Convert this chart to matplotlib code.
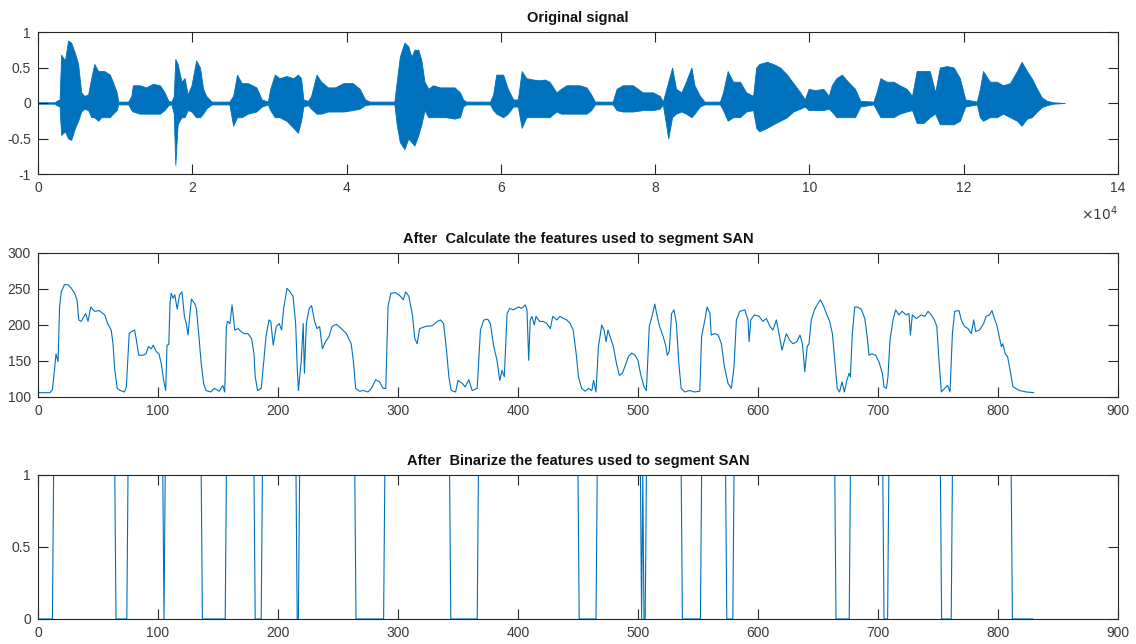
import numpy as np
import matplotlib
matplotlib.use("Agg")
import matplotlib.pyplot as plt

# ---------------- data ----------------
# Original signal: envelope (x in units of 1e4 samples)
sig_x = [0.00, 0.22, 0.24, 0.28, 0.30, 0.35, 0.39, 0.43, 0.48, 0.52, 0.56, 0.60, 0.65, 0.69, 0.73, 0.78,
         0.82, 0.86, 0.93, 0.97, 1.02, 1.04, 1.17, 1.21, 1.23, 1.32, 1.40, 1.49, 1.58, 1.64, 1.69, 1.73,
         1.76, 1.78, 1.81, 1.86, 1.90, 1.94, 1.99, 2.05, 2.10, 2.14, 2.18, 2.25, 2.48, 2.53, 2.58, 2.64,
         2.72, 2.83, 2.90, 2.98, 3.01, 3.07, 3.13, 3.22, 3.31, 3.37, 3.41, 3.44, 3.50, 3.54, 3.61, 3.67,
         3.76, 3.85, 3.96, 4.08, 4.17, 4.24, 4.30, 4.62, 4.65, 4.69, 4.75, 4.80, 4.84, 4.88, 4.93, 4.97,
         5.01, 5.06, 5.12, 5.21, 5.29, 5.40, 5.47, 5.51, 5.55, 5.86, 5.90, 5.94, 6.03, 6.09, 6.16, 6.22,
         6.27, 6.33, 6.42, 6.50, 6.57, 6.63, 6.72, 6.78, 6.85, 6.94, 7.02, 7.11, 7.17, 7.22, 7.45, 7.50,
         7.58, 7.71, 7.84, 7.97, 8.06, 8.10, 8.17, 8.22, 8.27, 8.34, 8.40, 8.47, 8.51, 8.58, 8.64, 8.84,
         8.88, 8.94, 9.01, 9.10, 9.18, 9.27, 9.31, 9.35, 9.45, 9.53, 9.62, 9.71, 9.79, 9.88, 9.94, 9.99,
         10.07, 10.18, 10.25, 10.29, 10.35, 10.42, 10.50, 10.59, 10.66, 10.83, 10.87, 10.92, 11.00, 11.09,
         11.17, 11.26, 11.33, 11.39, 11.48, 11.56, 11.63, 11.69, 11.78, 11.87, 11.95, 12.02, 12.17, 12.21,
         12.25, 12.34, 12.43, 12.51, 12.60, 12.69, 12.75, 12.82, 12.88, 12.95, 13.01, 13.08, 13.16, 13.31]
sig_up = [0.01, 0.01, 0.03, 0.05, 0.68, 0.60, 0.88, 0.85, 0.70, 0.55, 0.15, 0.10, 0.12, 0.35, 0.55, 0.45,
          0.45, 0.45, 0.40, 0.30, 0.15, 0.02, 0.02, 0.10, 0.25, 0.25, 0.22, 0.27, 0.25, 0.15, 0.03, 0.02,
          0.10, 0.62, 0.55, 0.30, 0.35, 0.12, 0.25, 0.60, 0.50, 0.20, 0.10, 0.02, 0.02, 0.10, 0.40, 0.28,
          0.28, 0.22, 0.05, 0.02, 0.20, 0.40, 0.35, 0.38, 0.35, 0.40, 0.35, 0.05, 0.03, 0.10, 0.40, 0.30,
          0.22, 0.22, 0.28, 0.28, 0.20, 0.05, 0.02, 0.02, 0.30, 0.65, 0.85, 0.80, 0.65, 0.75, 0.75, 0.60,
          0.30, 0.20, 0.25, 0.22, 0.22, 0.22, 0.15, 0.05, 0.02, 0.02, 0.12, 0.40, 0.40, 0.20, 0.05, 0.05,
          0.45, 0.35, 0.33, 0.32, 0.33, 0.30, 0.15, 0.20, 0.25, 0.25, 0.25, 0.22, 0.12, 0.02, 0.02, 0.20,
          0.25, 0.25, 0.15, 0.15, 0.10, 0.02, 0.30, 0.50, 0.20, 0.15, 0.30, 0.50, 0.25, 0.10, 0.02, 0.02,
          0.15, 0.45, 0.30, 0.30, 0.15, 0.10, 0.50, 0.55, 0.58, 0.55, 0.50, 0.40, 0.28, 0.15, 0.05, 0.20,
          0.18, 0.20, 0.10, 0.25, 0.35, 0.40, 0.30, 0.20, 0.03, 0.02, 0.15, 0.35, 0.30, 0.30,
          0.25, 0.20, 0.10, 0.45, 0.45, 0.45, 0.15, 0.50, 0.52, 0.50, 0.35, 0.05, 0.02, 0.20,
          0.45, 0.30, 0.30, 0.25, 0.28, 0.45, 0.58, 0.45, 0.35, 0.20, 0.08, 0.03, 0.01, 0.00]
sig_lo = [-0.01, -0.01, -0.03, -0.05, -0.45, -0.40, -0.50, -0.52, -0.35, -0.25, -0.12, -0.08, -0.10, -0.20, -0.20, -0.25,
          -0.20, -0.20, -0.20, -0.15, -0.10, -0.02, -0.02, -0.10, -0.12, -0.15, -0.15, -0.15, -0.15, -0.10, -0.03, -0.02,
          -0.15, -0.87, -0.30, -0.20, -0.20, -0.10, -0.12, -0.20, -0.20, -0.15, -0.08, -0.02, -0.02, -0.32, -0.20, -0.20,
          -0.15, -0.12, -0.05, -0.02, -0.10, -0.20, -0.20, -0.25, -0.35, -0.42, -0.25, -0.05, -0.03, -0.08, -0.15, -0.15,
          -0.12, -0.12, -0.12, -0.10, -0.08, -0.03, -0.02, -0.02, -0.30, -0.55, -0.65, -0.50, -0.55, -0.60, -0.45, -0.30,
          -0.10, -0.20, -0.20, -0.20, -0.20, -0.22, -0.20, -0.05, -0.02, -0.02, -0.10, -0.15, -0.20, -0.15, -0.05, -0.05,
          -0.35, -0.20, -0.20, -0.20, -0.20, -0.20, -0.12, -0.15, -0.15, -0.15, -0.15, -0.15, -0.10, -0.02, -0.02, -0.10,
          -0.12, -0.12, -0.10, -0.10, -0.08, -0.02, -0.50, -0.20, -0.15, -0.12, -0.15, -0.20, -0.15, -0.05, -0.02, -0.02,
          -0.10, -0.25, -0.20, -0.20, -0.12, -0.10, -0.35, -0.40, -0.35, -0.30, -0.25, -0.20, -0.12, -0.08, -0.05, -0.10,
          -0.10, -0.10, -0.08, -0.12, -0.20, -0.20, -0.20, -0.20, -0.05, -0.02, -0.10, -0.20, -0.20, -0.20,
          -0.15, -0.12, -0.10, -0.28, -0.28, -0.20, -0.15, -0.30, -0.30, -0.30, -0.25, -0.05, -0.02, -0.20,
          -0.25, -0.20, -0.20, -0.15, -0.20, -0.25, -0.32, -0.22, -0.20, -0.12, -0.06, -0.03, -0.01, 0.00]

# Feature curve (frame index, value)
feat_x = [0, 10, 12, 14, 15, 16.7, 18, 19.4, 22, 25, 27.8, 30.5, 32.5, 34, 36, 39.7, 41.7, 44, 47, 51, 55.6, 58,
          61, 62.5, 64, 66, 68.6, 72, 73.6, 76, 78, 80.5, 82, 84, 87.5, 90, 92, 94.4, 96, 98.6, 100.8, 102.8,
          104.7, 106.4, 107.5, 109, 110, 111, 112.5, 114, 116, 118, 120, 122, 123.6, 125, 126.4, 127.8, 130.5,
          132, 134, 136, 138, 140, 144, 147, 151, 154, 155.6, 157, 158, 160, 161.7, 164, 167, 169, 172, 175,
          178, 180, 181, 183, 186, 188, 190, 192.5, 194, 196, 198.6, 201, 203, 204.7, 207.5, 209.7, 212.5,
          214.7, 216, 217, 219.4, 221, 222, 223.6, 226, 228, 230.5, 232.5, 234.7, 237, 239.7, 242.5, 245,
          248.6, 252.8, 257, 261, 263, 264.7, 268, 271, 275, 277.8, 281.4, 284.7, 287.5, 289.8, 291.7, 294,
          298, 302, 304.4, 306.4, 309, 312, 314, 316, 318, 323, 328.5, 332.7, 335.5, 338, 340.4, 342.4, 344.3,
          348, 350, 353.5, 356, 359, 361.8, 366, 368.7, 371.5, 374.8, 377, 379.8, 382.5, 384.8, 386.7, 388.6,
          390.9, 393, 396, 400.6, 403, 406, 407.5, 408.9, 410.2, 411.6, 413.6, 415, 418, 421, 424, 426.9, 429,
          432.4, 435, 438, 440.7, 443.5, 446, 448.5, 450.4, 453, 456, 458.7, 461.5, 463, 465, 467, 469.8,
          471.7, 473.4, 475, 476.7, 479.5, 482, 484.5, 487, 489, 492, 494.7, 497.5, 500, 502, 505, 507, 509.4,
          512, 514, 516, 518, 521, 523, 524.4, 526, 528, 530, 532, 534, 536, 539, 543, 547, 551.5, 553,
          555.7, 557.6, 560, 561, 564, 566.8, 569.5, 572, 575, 577.8, 580, 582, 584.8, 589, 591.7, 592.6,
          594, 597, 601, 604, 607, 610, 612.5, 615.3, 617.5, 620, 621.4, 623.6, 626.4, 629, 632.5, 635, 637,
          639, 641, 642.5, 644.4, 647, 650, 652, 654.7, 657, 659.7, 662, 664, 666, 668, 670, 672, 674, 676,
          677, 678.6, 680.6, 683, 686, 689, 691, 692.5, 695, 698, 700.8, 703.6, 705, 707, 708.3, 710, 712.5,
          714.7, 717.5, 720, 723.6, 725.8, 727, 728.6, 732, 736, 739, 741.7, 744.4, 747, 749, 750.8, 752.8,
          755.5, 758, 760, 762, 763.9, 767.5, 769.4, 772, 775, 777.8, 779.7, 781.4, 784.7, 788, 790, 793,
          795, 797, 799, 801, 802.8, 804, 806, 808, 810, 812.5, 818, 823.6, 829.7]
feat_y = [106, 106, 110, 142, 160, 149, 226, 246, 256, 256, 251, 244, 235, 207, 205, 216, 205, 225, 219, 220, 214, 202,
          193, 174, 137, 112, 109, 107, 114, 188, 191, 193, 179, 158, 158, 160, 170, 167, 172, 163, 160, 146,
          123, 109, 172, 173, 230, 244, 237, 242, 222, 242, 246, 212, 202, 186, 212, 236, 230,
          223, 186, 147, 119, 109, 107, 112, 108, 116, 107, 198, 205, 202, 228, 193, 195, 191, 188, 188,
          181, 160, 128, 109, 112, 147, 184, 207, 205, 172, 198, 202, 193, 223, 251, 247, 240,
          202, 142, 109, 151, 202, 133, 202, 223, 227, 205, 195, 198, 167, 177, 184, 198,
          201, 195, 188, 174, 147, 112, 108, 109, 107, 112, 124, 121, 112, 112, 226, 244,
          245, 240, 235, 246, 240, 214, 181, 174, 195, 198, 199, 205, 207, 202, 165, 128, 109,
          107, 123, 119, 114, 124, 109, 112, 193, 207, 208, 202, 170, 151, 123, 137, 128,
          216, 223, 221, 225, 223, 228, 221, 151, 207, 212, 200, 212, 205, 205, 202, 195, 212,
          207, 212, 209, 207, 202, 193, 160, 128, 112, 108, 112, 109, 123, 107, 170, 200,
          193, 177, 193, 184, 170, 147, 130, 133, 142, 156, 161, 158, 151, 133, 114, 109, 198,
          214, 229, 212, 198, 184, 172, 158, 163, 216, 221, 202, 147, 112, 107, 109, 107, 108, 184,
          207, 225, 216, 186, 188, 186, 174, 142, 119, 112, 142, 207, 219, 221, 207, 177,
          207, 214, 212, 205, 209, 198, 193, 207, 188, 165, 174, 188, 179, 174, 177, 186, 174,
          135, 170, 174, 207, 221, 230, 235, 226, 216, 205, 188, 151, 112, 107, 121, 107, 123, 133,
          128, 188, 225, 225, 222, 209, 184, 158, 160, 158, 149, 133, 114, 112, 128, 179, 207,
          221, 214, 219, 214, 216, 186, 214, 209, 214, 212, 219, 214, 207, 198, 151, 107,
          112, 116, 107, 188, 219, 220, 207, 198, 195, 188, 207, 191, 193, 202, 212, 214,
          220, 209, 200, 184, 170, 174, 160, 156, 138, 114, 109, 107, 106]

# Binarized features: frame intervals (inclusive) where value is 1
bin_on_start = [13, 75, 106, 157, 187, 218, 289, 367, 385, 466, 504, 507, 553, 580, 677, 709, 762]
bin_on_end   = [64, 104, 136, 180, 215, 264, 343, 384, 450, 502, 504, 536, 573, 664, 704, 752, 811]
bin_length = 830

titles = ["Original signal",
          "After  Calculate the features used to segment SAN",
          "After  Binarize the features used to segment SAN"]

# ---------------- style ----------------
plt.rcParams['font.family'] = ['Liberation Sans', 'DejaVu Sans']
blue = '#0072BD'
axcol = '#262626'
lblcol = '#3a3a3a'

fig = plt.figure(figsize=(11.36, 6.44), dpi=100)
W, H = 1136, 644
def ax_at(l, t, r, b):
    return fig.add_axes([l / W, 1 - b / H, (r - l) / W, (b - t) / H])

ax1 = ax_at(38, 32, 1118, 174)
ax2 = ax_at(38, 253, 1118, 397)
ax3 = ax_at(38, 475, 1118, 619)

def style(ax):
    for s in ax.spines.values():
        s.set_color(axcol)
        s.set_linewidth(0.8)
        s.set_zorder(5)
    ax.tick_params(direction='in', length=7.5, width=0.8, color=axcol, labelcolor=lblcol,
                   labelsize=10, top=True, right=True, pad=5)

# top: original signal
ax1.fill_between(sig_x, sig_lo, sig_up, color=blue, linewidth=0.6, edgecolor=blue)
ax1.set_xlim(0, 14)
ax1.set_ylim(-1, 1)
ax1.set_xticks(np.arange(0, 15, 2))
ax1.set_yticks([-1, -0.5, 0, 0.5, 1])
ax1.set_yticklabels(['-1', '-0.5', '0', '0.5', '1'])
style(ax1)
ax1.set_title(titles[0], fontsize=10.5, fontweight='bold', color='#111111', pad=7)
ax1.text(1.0, -0.28, r'$\times 10^4$', transform=ax1.transAxes, ha='right', va='center',
         fontsize=10, color=lblcol)

# middle: feature curve
ax2.plot(feat_x, feat_y, color=blue, linewidth=0.8)
ax2.set_xlim(0, 900)
ax2.set_ylim(100, 300)
ax2.set_xticks(np.arange(0, 901, 100))
ax2.set_yticks(np.arange(100, 301, 50))
style(ax2)
ax2.set_title(titles[1], fontsize=10.5, fontweight='bold', color='#111111', pad=7)

# bottom: binarized
bx = np.arange(bin_length)
by = np.zeros(bin_length)
for s, e in zip(bin_on_start, bin_on_end):
    by[s:e + 1] = 1
ax3.plot(bx, by, color=blue, linewidth=0.8)
ax3.set_xlim(0, 900)
ax3.set_ylim(0, 1)
ax3.set_xticks(np.arange(0, 901, 100))
ax3.set_yticks([0, 0.5, 1])
ax3.set_yticklabels(['0', '0.5', '1'])
style(ax3)
ax3.set_title(titles[2], fontsize=10.5, fontweight='bold', color='#111111', pad=7)

fig.savefig('out.png', dpi=100)
